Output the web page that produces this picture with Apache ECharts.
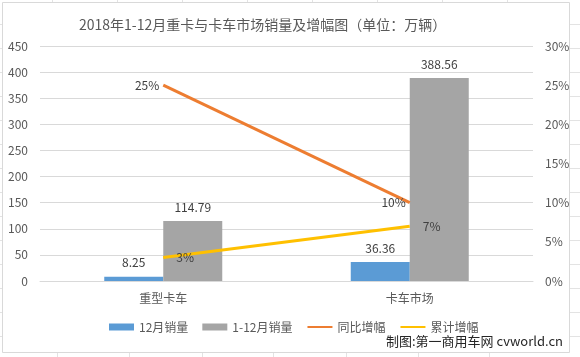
<!DOCTYPE html>
<html>
<head>
<meta charset="utf-8">
<script src="https://cdn.jsdelivr.net/npm/echarts@6/dist/echarts.min.js"></script>
<style>
html,body{margin:0;padding:0;background:#fff;}
#chart{width:580px;height:357px;}
</style>
</head>
<body>
<div id="chart"></div>
<script>
const categories = ['重型卡车', '卡车市场'];
const decSales = [8.25, 36.36];
const yearSales = [114.79, 388.56];
const yoyGrowth = [0.25, 0.10];
const cumGrowth = [0.03, 0.07];
const seriesNames = ['12月销量', '1-12月销量', '同比增幅', '累计增幅'];
const titleText = '2018年1-12月重卡与卡车市场销量及增幅图（单位：万辆）';
const creditText = '制图:第一商用车网 cvworld.cn';

const FONT = '"Noto Sans CJK SC", "Noto Sans", sans-serif';
const chart = echarts.init(document.getElementById('chart'), null, {renderer: 'canvas'});

const gridCol = '#d9d9d9';
const decor = [];
decor.push({type: 'rect', shape: {x: 2.5, y: 2.5, width: 567, height: 350}, style: {fill: 'none', stroke: '#d9d9d9', lineWidth: 1}, silent: true, z: -10});
[57, 129, 202, 273, 346, 418, 489].forEach(x => decor.push({type: 'line', shape: {x1: x + 0.5, y1: 353, x2: x + 0.5, y2: 357}, style: {stroke: '#e3e3e3', lineWidth: 1}, silent: true}));
[52, 117, 182, 247, 312, 377, 442, 507].forEach(x => decor.push({type: 'line', shape: {x1: x + 0.5, y1: 0, x2: x + 0.5, y2: 2}, style: {stroke: '#e3e3e3', lineWidth: 1}, silent: true}));
for (let y = 24; y < 352; y += 24) {
  decor.push({type: 'line', shape: {x1: 0, y1: y + 0.5, x2: 2, y2: y + 0.5}, style: {stroke: '#e3e3e3', lineWidth: 1}, silent: true});
  decor.push({type: 'line', shape: {x1: 570, y1: y + 0.5, x2: 580, y2: y + 0.5}, style: {stroke: '#e3e3e3', lineWidth: 1}, silent: true});
}
decor.push({type: 'text', right: 17, top: 335, style: {text: creditText, font: '13px ' + FONT, fill: '#262626'}, silent: true});

const pct = p => Math.round(p.value * 100) + '%';

const option = {
  animation: false,
  backgroundColor: '#fff',
  textStyle: {fontFamily: FONT},
  title: {
    text: titleText, left: 74, top: 13,
    textStyle: {fontSize: 14, fontWeight: 'normal', color: '#595959', fontFamily: FONT}
  },
  legend: {
    data: [
      {name: seriesNames[0], icon: 'rect'},
      {name: seriesNames[1], icon: 'rect'},
      {name: seriesNames[2]},
      {name: seriesNames[3]}
    ],
    left: 104, top: 316, itemWidth: 25, itemHeight: 7, itemGap: 14,
    textStyle: {fontSize: 12, color: '#595959', fontFamily: FONT}
  },
  grid: {left: 40, right: 47, top: 46, bottom: 76},
  xAxis: {
    type: 'category', data: categories,
    axisLine: {show: true, lineStyle: {color: gridCol}},
    axisTick: {show: false},
    axisLabel: {fontSize: 12, color: '#595959', margin: 11, fontFamily: FONT}
  },
  yAxis: [
    {
      type: 'value', min: 0, max: 450, interval: 50,
      axisLine: {show: false}, axisTick: {show: false},
      splitLine: {lineStyle: {color: gridCol}},
      axisLabel: {fontSize: 12, color: '#595959', margin: 12, fontFamily: FONT}
    },
    {
      type: 'value', min: 0, max: 0.3, interval: 0.05,
      axisLine: {show: false}, axisTick: {show: false},
      splitLine: {show: false},
      axisLabel: {fontSize: 12, color: '#595959', margin: 12, fontFamily: FONT,
        formatter: v => Math.round(v * 100) + '%'}
    }
  ],
  series: [
    {
      name: seriesNames[0], type: 'bar', data: decSales, barWidth: 59, barGap: '0%',
      itemStyle: {color: '#5B9BD5'},
      label: {show: true, position: 'top', distance: 8, fontSize: 12, color: '#404040', fontFamily: FONT}
    },
    {
      name: seriesNames[1], type: 'bar', data: yearSales, barWidth: 59, barGap: '0%',
      itemStyle: {color: '#A5A5A5'},
      label: {show: true, position: 'top', distance: 8, fontSize: 12, color: '#404040', fontFamily: FONT}
    },
    {
      name: seriesNames[2], type: 'line', yAxisIndex: 1, data: yoyGrowth,
      symbol: 'circle', symbolSize: 2, showSymbol: true, z: 5,
      lineStyle: {color: '#ED7D31', width: 3}, itemStyle: {color: 'rgba(0,0,0,0)', borderWidth: 0},
      label: {show: true, position: 'left', distance: 3, fontSize: 12, color: '#404040', fontFamily: FONT, formatter: pct}
    },
    {
      name: seriesNames[3], type: 'line', yAxisIndex: 1, data: cumGrowth,
      symbol: 'circle', symbolSize: 2, showSymbol: true, z: 5,
      lineStyle: {color: '#FFC000', width: 3}, itemStyle: {color: 'rgba(0,0,0,0)', borderWidth: 0},
      label: {show: true, position: 'right', distance: 12, fontSize: 12, color: '#404040', fontFamily: FONT, formatter: pct}
    }
  ],
  graphic: decor
};
chart.setOption(option);
</script>
</body>
</html>
